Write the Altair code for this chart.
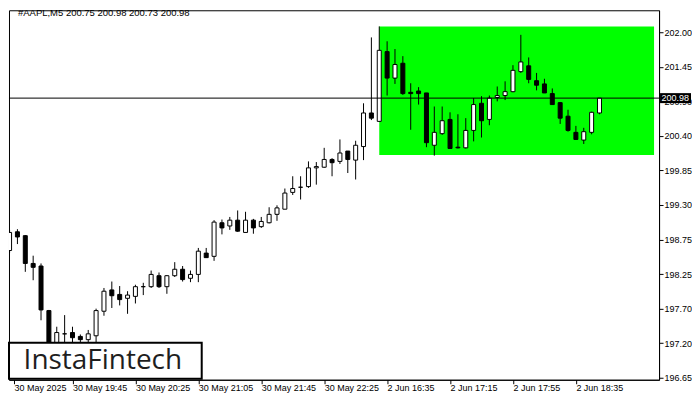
import json
import altair as alt
import pandas as pd

TITLE = "#AAPL,M5  200.75 200.98 200.73 200.98"
LOGO = "InstaFintech"

OPEN = [198.62, 198.91, 198.85, 198.42, 198.38, 197.69, 197.15, 197.33, 197.35, 197.29,
        197.24, 197.30, 197.68, 198.01, 197.94, 197.88, 197.91, 198.06, 198.06, 198.23,
        198.06, 198.23, 198.33, 198.19, 198.25, 198.58, 198.53, 199.05, 199.00, 199.09,
        198.90, 199.09, 198.99, 199.05, 199.18, 199.26, 199.52, 199.60, 199.61, 199.90,
        199.91, 200.03, 200.00, 200.16, 200.02, 200.23, 200.75, 200.62, 201.70, 201.29,
        201.52, 201.07, 201.09, 201.06, 200.25, 200.43, 200.65, 200.22, 200.21, 200.48,
        200.90, 200.65, 200.99, 201.02, 201.08, 201.39, 201.48, 201.25, 201.20, 201.05,
        200.91, 200.70, 200.45, 200.33, 200.45, 200.75]
HIGH = [198.94, 198.95, 198.86, 198.54, 198.42, 197.70, 197.44, 197.62, 197.44, 197.32,
        197.39, 197.72, 198.04, 198.14, 198.07, 197.99, 198.09, 198.12, 198.31, 198.28,
        198.24, 198.44, 198.38, 198.31, 198.66, 198.66, 199.09, 199.10, 199.14, 199.24,
        199.22, 199.11, 199.14, 199.29, 199.32, 199.58, 199.77, 199.77, 200.00, 199.99,
        200.21, 200.05, 200.34, 200.16, 200.32, 200.90, 201.92, 202.09, 201.86, 201.74,
        201.63, 201.21, 201.15, 201.06, 200.85, 200.85, 200.76, 200.73, 200.67, 200.98,
        201.01, 201.02, 201.16, 201.24, 201.49, 201.96, 201.61, 201.37, 201.28, 201.13,
        200.92, 200.80, 200.55, 200.52, 200.77, 200.98]
LOW = [198.58, 198.72, 198.29, 198.16, 197.54, 197.05, 197.10, 197.15, 197.18, 197.15,
       197.16, 197.15, 197.61, 197.73, 197.77, 197.64, 197.80, 197.93, 198.04, 198.04,
       197.95, 198.21, 198.14, 198.13, 198.13, 198.51, 198.46, 198.87, 198.94, 198.91,
       198.90, 198.88, 198.97, 199.04, 199.08, 199.26, 199.48, 199.41, 199.59, 199.64,
       199.90, 199.77, 199.96, 199.82, 199.72, 200.02, 200.64, 200.61, 201.02, 201.20,
       201.03, 200.49, 200.88, 200.22, 200.09, 200.41, 200.20, 200.20, 200.20, 200.31,
       200.37, 200.56, 200.93, 200.95, 201.07, 201.37, 201.21, 201.10, 201.06, 200.88,
       200.58, 200.46, 200.34, 200.27, 200.42, 200.73]
CLOSE = [198.90, 198.83, 198.42, 198.36, 197.70, 197.15, 197.35, 197.33, 197.27, 197.24,
         197.33, 197.69, 197.99, 197.92, 197.86, 197.93, 198.06, 198.06, 198.25, 198.06,
         198.23, 198.33, 198.17, 198.25, 198.61, 198.51, 199.06, 198.97, 199.09, 198.92,
         199.09, 198.97, 199.07, 199.18, 199.28, 199.51, 199.58, 199.60, 199.90, 199.92,
         200.03, 199.98, 200.13, 200.03, 200.25, 200.75, 200.67, 201.72, 201.29, 201.50,
         201.05, 201.05, 201.05, 200.29, 200.45, 200.63, 200.20, 200.21, 200.48, 200.88,
         200.63, 200.98, 201.02, 201.08, 201.41, 201.54, 201.27, 201.18, 201.06, 200.88,
         200.67, 200.48, 200.34, 200.46, 200.76, 200.98]

X_TICK_INDEX = [0, 8, 16, 24, 32, 40, 48, 56, 64, 72]
X_TICK_LABELS = ["30 May 2025", "30 May 19:45", "30 May 20:25", "30 May 21:05",
                 "30 May 21:45", "30 May 22:25", "2 Jun 16:35", "2 Jun 17:15",
                 "2 Jun 17:55", "2 Jun 18:35"]
Y_TICK_LABELS = ["202.00", "201.45", "200.90", "200.40", "199.85", "199.30",
                 "198.75", "198.25", "197.70", "197.20", "196.65"]
Y_TICK_TOP, Y_TICK_BOTTOM = 202.00, 196.65

RECT_START = 47
RECT_HIGH, RECT_LOW = 202.09, 200.10
LAST_PRICE = 200.98

X_DOMAIN = [0.5625, 81.9375]
Y_DOMAIN = [196.6191, 202.3402]

W, H = 651, 370
FONT = "Liberation Sans"

n = len(OPEN)
df = pd.DataFrame({"i": list(range(n)), "open": OPEN, "high": HIGH, "low": LOW, "close": CLOSE})
df["dir"] = ["up" if c >= o else "down" for o, c in zip(OPEN, CLOSE)]

step = (Y_TICK_TOP - Y_TICK_BOTTOM) / (len(Y_TICK_LABELS) - 1)
y_tick_values = [Y_TICK_TOP - k * step for k in range(len(Y_TICK_LABELS))]
# first date tick sits at the left frame edge (its bar is outside the visible window)
x_tick_values = [max(v, X_DOMAIN[0] + 0.01) for v in X_TICK_INDEX]

x_axis = alt.Axis(values=x_tick_values, tickCount=len(X_TICK_INDEX),
                  labelExpr=f"{json.dumps(X_TICK_LABELS)}[round(datum.value/8)]",
                  orient="bottom", tickSize=4, labelPadding=0, labelAlign="left",
                  labelFlush=False, labelOverlap=False, grid=False, title=None,
                  domainColor="black", tickColor="black", labelColor="black",
                  labelFont=FONT, labelFontSize=9)
y_axis = alt.Axis(values=y_tick_values, tickCount=len(Y_TICK_LABELS),
                  labelExpr=f"{json.dumps(Y_TICK_LABELS)}[round(({Y_TICK_TOP}-datum.value)/{step})]",
                  orient="right", tickSize=4, labelPadding=1, labelOverlap=False,
                  labelFlush=False, grid=False, title=None,
                  domainColor="black", tickColor="black", labelColor="black",
                  labelFont=FONT, labelFontSize=9)

xs = alt.Scale(domain=X_DOMAIN, nice=False, zero=False)
ys = alt.Scale(domain=Y_DOMAIN, nice=False, zero=False)

base = alt.Chart(df)

rect_df = pd.DataFrame({"x": [RECT_START], "x2": [X_DOMAIN[1]], "y": [RECT_HIGH], "y2": [RECT_LOW]})
green = alt.Chart(rect_df).mark_rect(color="#00FF00", clip=True).encode(
    x=alt.X("x:Q", scale=xs, axis=x_axis), x2="x2:Q",
    y=alt.Y("y:Q", scale=ys, axis=y_axis), y2="y2:Q")

wicks = base.mark_rule(color="black", strokeWidth=1, clip=True).encode(
    x=alt.X("i:Q", scale=xs), y=alt.Y("low:Q", scale=ys), y2="high:Q")

bodies = base.mark_bar(width=4, stroke="black", strokeWidth=1, clip=True).encode(
    x=alt.X("i:Q", scale=xs), y=alt.Y("open:Q", scale=ys), y2="close:Q",
    fill=alt.Fill("dir:N", scale=alt.Scale(domain=["up", "down"], range=["white", "black"]), legend=None))

price_df = pd.DataFrame({"p": [LAST_PRICE], "label": [f"{LAST_PRICE:.2f}"]})
price_line = alt.Chart(price_df).mark_rule(color="black", strokeWidth=1).encode(
    y=alt.Y("p:Q", scale=ys))
price_box = alt.Chart(price_df).mark_rect(color="black", yOffset=-5, y2Offset=5, clip=False).encode(
    x=alt.value(W + 1), x2=alt.value(W + 32), y=alt.Y("p:Q", scale=ys), y2="p:Q")
price_text = alt.Chart(price_df).mark_text(color="white", align="left", baseline="middle",
                                           font=FONT, fontSize=9, clip=False).encode(
    x=alt.value(W + 2.5), y=alt.Y("p:Q", scale=ys), text="label:N")

title_df = pd.DataFrame({"t": [TITLE]})
title = alt.Chart(title_df).mark_text(align="left", baseline="middle", font=FONT,
                                      fontSize=9.5, color="black").encode(
    x=alt.value(9), y=alt.value(3), text="t:N")

logo_df = pd.DataFrame({"t": [LOGO]})
logo_box = alt.Chart(logo_df).mark_rect(fill="white", stroke="black", strokeWidth=2).encode(
    x=alt.value(0), x2=alt.value(193), y=alt.value(333), y2=alt.value(369))
logo_text = alt.Chart(logo_df).mark_text(align="center", baseline="middle", font="Open Sans",
                                         fontSize=28, color="#1e1e1e").encode(
    x=alt.value(94), y=alt.value(351), text="t:N")

chart = alt.layer(green, wicks, bodies, price_line, title, logo_box, logo_text,
                  price_box, price_text).properties(
    width=W, height=H,
    padding=0,
    background="white",
).configure_view(stroke="black", strokeWidth=1)

chart.save("out.html", embed_options={"renderer": "svg", "actions": False})
